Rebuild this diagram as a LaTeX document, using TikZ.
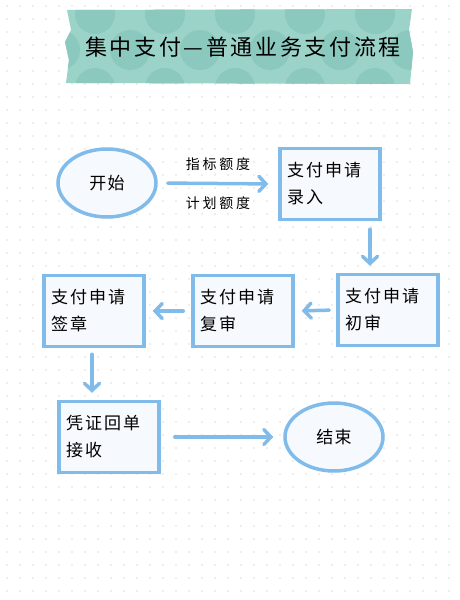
\documentclass[tikz,border=0pt]{standalone}
\usepackage{fontspec}
\setmainfont{Noto Sans CJK SC}
\usetikzlibrary{shapes.geometric,arrows.meta,positioning}
\definecolor{tapeteal}{RGB}{156,211,201}
\definecolor{tapedot}{RGB}{139,200,190}
\definecolor{flowblue}{RGB}{128,187,234}
\definecolor{boxfill}{RGB}{246,249,253}
\definecolor{griddot}{RGB}{222,222,222}
\tikzset{
  stepbox/.style={draw=flowblue, line width=3.5pt, fill=boxfill, minimum width=100pt,
    minimum height=71pt, text width=86pt, inner xsep=7pt, align=left,
    font=\fontsize{17}{27}\selectfont\addfontfeature{LetterSpace=12}},
  termnode/.style={draw=flowblue, line width=3.5pt, fill=boxfill, ellipse,
    minimum width=98pt, minimum height=68pt,
    font=\fontsize{17}{20}\selectfont\addfontfeature{LetterSpace=8}},
  flow/.style={draw=flowblue, line width=3.5pt, line cap=round,
    -{Straight Barb[length=7pt,width=15pt,line cap=round]}},
  quota/.style={font=\fontsize{14}{16}\selectfont\addfontfeature{LetterSpace=20}}
}
\begin{document}
\begin{tikzpicture}[x=1pt, y=-1pt]
   \useasboundingbox (0,0) rectangle (460,600);
   \fill[white] (0,0) rectangle (460,600);
   % dotted paper
   \foreach \gx in {7,20,...,459}
     \foreach \gy in {6,19,...,599}
       \fill[griddot] (\gx,\gy) circle (0.9pt);

   % title tape
   \begin{scope}
     \path[clip] (67,10) -- (412,9) -- (409,30) -- (413,52) -- (410,84)
       -- (66,83) -- (69,60) -- (65,42) -- (71,30) -- cycle;
     \fill[tapeteal] (60,0) rectangle (420,90);
     \foreach \cx in {95,165,...,445}
       \fill[tapedot] (\cx,14) circle (20pt);
     \foreach \cx in {60,130,...,410}
       \fill[tapedot] (\cx,50) circle (20pt);
     \foreach \cx in {95,165,...,445}
       \fill[tapedot] (\cx,88) circle (20pt);
   \end{scope}
   \node[font=\fontsize{22}{26}\selectfont\addfontfeature{LetterSpace=12}] (title) at (243,47) {集中支付—普通业务支付流程};

   % nodes
   \node[termnode] (start) at (107,183) {开始};
   \node[stepbox] (entry) at (330,184) {支付申请\\录入};
   \node[stepbox] (check) at (388,310) {支付申请\\初审};
   \node[stepbox] (review) at (243,311) {支付申请\\复审};
   \node[stepbox] (sign) at (94,311) {支付申请\\签章};
   \node[stepbox] (receipt) at (109,437) {凭证回单\\接收};
   \node[termnode] (finish) at (334,437) {结束};

   % connectors
   \draw[flow, shorten <=10pt, shorten >=10pt] (start.east) -- (entry.west)
     node[quota, midway, above=8pt] {指标额度}
     node[quota, midway, below=8pt] {计划额度};
   \draw[flow, shorten <=8pt, shorten >=7pt] ([xshift=40pt]entry.south) -- ([xshift=40pt]entry.south |- check.north);
   \draw[flow, shorten <=7pt, shorten >=7pt] (check.west) -- (review.east);
   \draw[flow, shorten <=8pt, shorten >=7pt] (review.west) -- (sign.east);
   \draw[flow, shorten <=6pt, shorten >=7pt] ([xshift=-2pt]sign.south) -- ([xshift=-2pt]sign.south |- receipt.north);
   \draw[flow, shorten <=14pt, shorten >=10pt] (receipt.east) -- (finish.west);
\end{tikzpicture}
\end{document}
